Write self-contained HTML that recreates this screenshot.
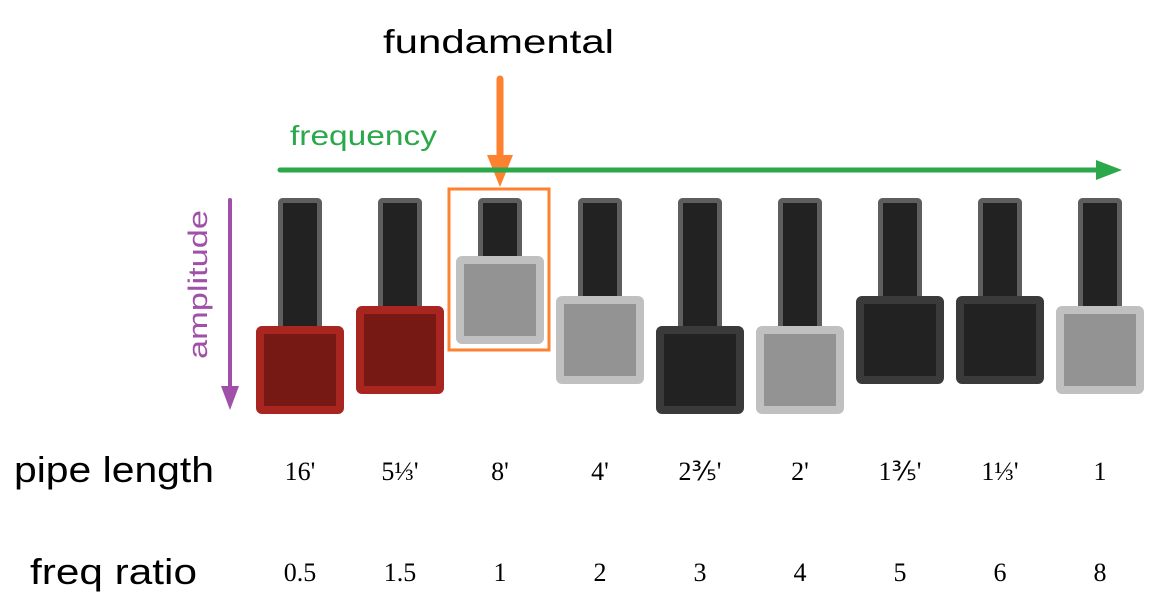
<!DOCTYPE html>
<html><head><meta charset="utf-8"><style>
body{margin:0;background:#fff;width:1150px;height:610px;overflow:hidden}
text{font-family:"Liberation Sans",sans-serif}
text.num{font-family:"Liberation Serif",serif}
</style></head><body>
<svg id="chart" width="1150" height="610" viewBox="0 0 1150 610" xmlns="http://www.w3.org/2000/svg">
<text x="383" y="53" font-size="33" textLength="231" lengthAdjust="spacingAndGlyphs" fill="#000">fundamental</text>
<line x1="500" y1="79" x2="500" y2="158" stroke="#fe8130" stroke-width="7" stroke-linecap="round"/>
<polygon points="487,155 513,155 500,187" fill="#fe8130"/>
<text x="290" y="145" font-size="28" textLength="147" lengthAdjust="spacingAndGlyphs" fill="#2aa84a">frequency</text>
<line x1="280" y1="170" x2="1100" y2="170" stroke="#2aa84a" stroke-width="5" stroke-linecap="round"/>
<polygon points="1096,160 1122,170 1096,180" fill="#2aa84a"/>
<line x1="230" y1="200" x2="230" y2="390" stroke="#a050a8" stroke-width="4" stroke-linecap="round"/>
<polygon points="221,386 239,386 230,410" fill="#a050a8"/>
<text transform="translate(207,359) rotate(-90)" font-size="27" textLength="149" lengthAdjust="spacingAndGlyphs" fill="#a050a8">amplitude</text>
<rect x="449" y="189" width="100" height="161" fill="none" stroke="#fe8130" stroke-width="3"/>
<g id="bars"></g>
<text x="14" y="482" font-size="36" textLength="200" lengthAdjust="spacingAndGlyphs" fill="#000">pipe length</text>
<text x="30" y="584" font-size="36" textLength="167" lengthAdjust="spacingAndGlyphs" fill="#000">freq ratio</text>
<g id="labels"></g>
</svg>
<script>
const pipeLengths=["16'","5⅓'","8'","4'","2⅗'","2'","1⅗'","1⅓'","1"];
const freqRatios=["0.5","1.5","1","2","3","4","5","6","8"];
const settings=[8,6,1,5,8,8,5,5,6];
const kinds=["red","red","light","light","dark","light","dark","dark","light"];
const NS="http://www.w3.org/2000/svg";
const colors={red:["#a82520","#761814"],light:["#c0c0c0","#939393"],dark:["#3a3a3a","#222222"]};
function xPos(i){return 300+i*100;}
function knobTop(v){return 246+10*v;}
const bars=document.getElementById('bars'),labels=document.getElementById('labels');
function mk(tag,attrs,parent){const e=document.createElementNS(NS,tag);for(const k in attrs)e.setAttribute(k,attrs[k]);parent.appendChild(e);return e;}
settings.forEach((v,i)=>{
  const cx=xPos(i),top=knobTop(v),c=colors[kinds[i]];
  const g=mk('g',{},bars);
  
  
  const s=mk('rect',{x:cx-19.5,y:200.5,width:39,height:top-195,rx:2,fill:'#222',stroke:'#5e5e5e','stroke-width':5},g);
  
  
  const k=mk('rect',{x:cx-40,y:top+4,width:80,height:80,rx:2,fill:c[1],stroke:c[0],'stroke-width':8},g);
  
  
  const t1=mk('text',{class:'num',x:cx,y:480,'font-size':26,'text-anchor':'middle',fill:'#000'},labels);
  t1.textContent=pipeLengths[i];
  
  
  const t2=mk('text',{class:'num',x:cx,y:581,'font-size':26,'text-anchor':'middle',fill:'#000'},labels);
  t2.textContent=freqRatios[i];
  
  
});
</script>
</body></html>
